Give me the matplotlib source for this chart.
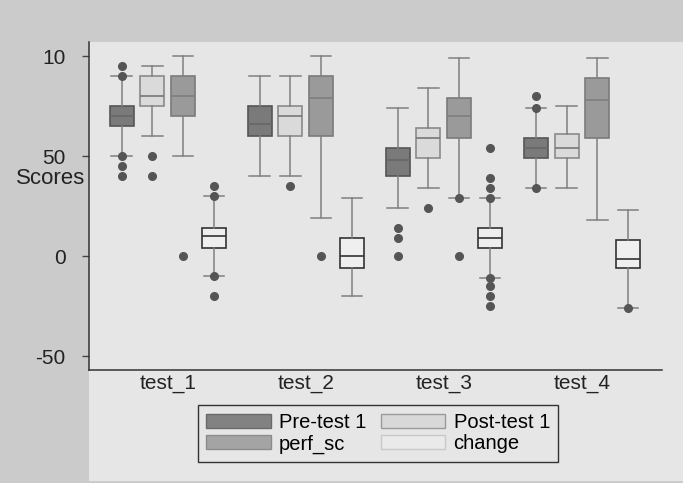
import matplotlib
matplotlib.use("Agg")
import matplotlib.pyplot as plt
from matplotlib.patches import Patch, Rectangle

plt.rcParams['font.family'] = ['Liberation Sans', 'DejaVu Sans']

# --- data ----------------------------------------------------------------
tests = ["test_1", "test_2", "test_3", "test_4"]
series = ["Pre-test 1", "Post-test 1", "perf_sc", "change"]

pre_whislo = [50, 40, 24, 34]
pre_q1 = [65, 60, 40, 49]
pre_med = [70, 66, 48, 54]
pre_q3 = [75, 75, 54, 59]
pre_whishi = [90, 90, 74, 74]
pre_fliers = [[95, 90, 50, 45, 40], [], [14, 9, 0], [80, 74, 34]]

post_whislo = [60, 40, 34, 34]
post_q1 = [75, 60, 49, 49]
post_med = [80, 70, 59, 54]
post_q3 = [90, 75, 64, 61]
post_whishi = [95, 90, 84, 75]
post_fliers = [[50, 40], [35], [24], []]

perf_whislo = [50, 19, 29, 18]
perf_q1 = [70, 60, 59, 59]
perf_med = [80, 79, 70, 78]
perf_q3 = [90, 90, 79, 89]
perf_whishi = [100, 100, 99, 99]
perf_fliers = [[0], [0], [29, 0], []]

change_whislo = [-10, -20, -11, -26]
change_q1 = [4, -6, 4, -6]
change_med = [10, 0, 9, -1.5]
change_q3 = [14, 9, 14, 8]
change_whishi = [30, 29, 29, 23]
change_fliers = [[35, 30, -10, -20], [], [54, 39, 34, 29, -11, -15, -20, -25], [-26]]

ytick_vals = [-50, 0, 50, 100]
ytick_labels = ["-50", "0", "50", "10"]

# --- styles ----------------------------------------------------------------
face = {"Pre-test 1": "#7a7a7a", "Post-test 1": "#dadada",
        "perf_sc": "#9a9a9a", "change": "#efefef"}
edge = {"Pre-test 1": "#555555", "Post-test 1": "#8a8a8a",
        "perf_sc": "#7a7a7a", "change": "#333333"}
medc = {"Pre-test 1": "#666666", "Post-test 1": "#777777",
        "perf_sc": "#7e7e7e", "change": "#333333"}

stats_src = {
    "Pre-test 1": (pre_whislo, pre_q1, pre_med, pre_q3, pre_whishi, pre_fliers),
    "Post-test 1": (post_whislo, post_q1, post_med, post_q3, post_whishi, post_fliers),
    "perf_sc": (perf_whislo, perf_q1, perf_med, perf_q3, perf_whishi, perf_fliers),
    "change": (change_whislo, change_q1, change_med, change_q3, change_whishi, change_fliers),
}

W, H = 683, 483
bg_light = "#e6e6e6"
fig = plt.figure(figsize=(W / 100, H / 100), dpi=100, facecolor="#cbcbcb")
fig.patches.append(Rectangle((89 / W, 2 / H), 1 - 89 / W, (481 - 42) / H,
                             transform=fig.transFigure, facecolor=bg_light,
                             edgecolor="none", zorder=-5))
ax = fig.add_axes([89 / W, 1 - 370 / H, (662 - 89) / W, (370 - 42) / H])
ax.set_facecolor(bg_light)

step = 0.223
width = 0.174
for k, name in enumerate(series):
    wl, q1, md, q3, wh, fl = stats_src[name]
    stats = []
    for i in range(len(tests)):
        stats.append(dict(whislo=wl[i], q1=q1[i], med=md[i], q3=q3[i],
                          whishi=wh[i], fliers=fl[i]))
    pos = [i + 1 + (k - 1.5) * step for i in range(len(tests))]
    ax.bxp(stats, positions=pos, widths=width, capwidths=width * 0.85,
           patch_artist=True, showfliers=True,
           boxprops=dict(facecolor=face[name], edgecolor=edge[name], linewidth=1.2),
           medianprops=dict(color=medc[name], linewidth=1.2),
           whiskerprops=dict(color="#808080", linewidth=1.1),
           capprops=dict(color="#808080", linewidth=1.1),
           flierprops=dict(marker="o", markersize=5.5, markerfacecolor="#555555",
                           markeredgecolor="#555555"))

ax.set_xlim(0.43, 4.58)
ax.set_ylim(-57, 107)
ax.set_xticks(range(1, len(tests) + 1))
ax.set_xticklabels(tests, fontsize=15, color="#222222")
ax.tick_params(axis="x", length=0, pad=3)
ax.set_yticks(ytick_vals)
ax.set_yticklabels(ytick_labels, fontsize=15, color="#222222")
ax.tick_params(axis="y", length=5, width=1, color="#444444", pad=12)
for s in ("top", "right"):
    ax.spines[s].set_visible(False)
for s in ("left", "bottom"):
    ax.spines[s].set_color("#333333")
    ax.spines[s].set_linewidth(1.1)

fig.text(51 / W, 1 - 178 / H, "Scores", fontsize=16, color="#222222",
         ha="center", va="center")

order = ["Pre-test 1", "perf_sc", "Post-test 1", "change"]
leg_face = {"Pre-test 1": "#828282", "perf_sc": "#a4a4a4",
            "Post-test 1": "#d8d8d8", "change": "#eaeaea"}
leg_edge = {"Pre-test 1": "#6a6a6a", "perf_sc": "#8c8c8c",
            "Post-test 1": "#9a9a9a", "change": "#c8c8c8"}
handles = [Patch(facecolor=leg_face[n], edgecolor=leg_edge[n]) for n in order]
fig.legend(handles, order, ncol=2, loc="upper left",
           bbox_to_anchor=(198 / W, 1 - 405 / H), fontsize=14.5,
           frameon=True, fancybox=False, edgecolor="#333333",
           facecolor=bg_light, framealpha=1, handlelength=3.2,
           handleheight=0.7, borderpad=0.4, labelspacing=0.12,
           columnspacing=0.75, handletextpad=0.4, borderaxespad=0)

fig.savefig("out.png", dpi=100, facecolor=fig.get_facecolor())
